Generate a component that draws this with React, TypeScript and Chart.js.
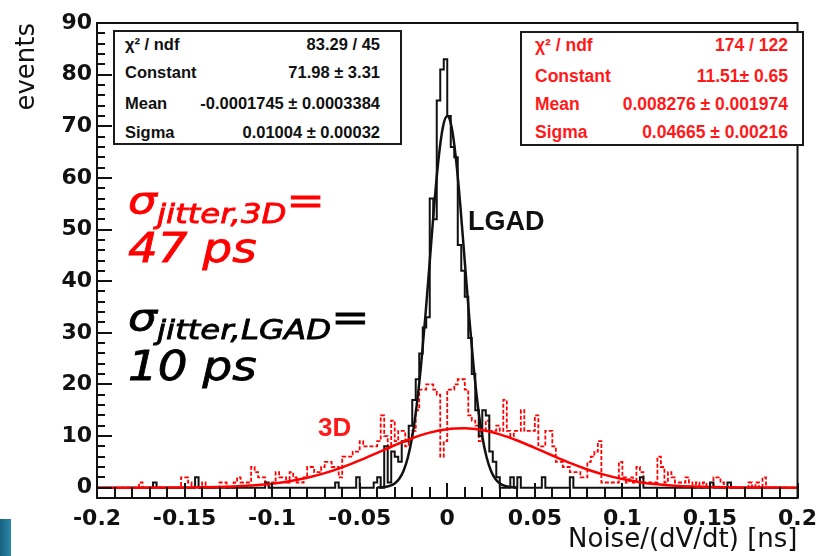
import React, { useEffect, useRef } from 'react';
import { Chart, registerables } from 'chart.js';
Chart.register(...registerables);

// ---------- data ----------
const BIN_LOW = -0.2;
const BIN_WIDTH = 0.002;

// LGAD histogram, 200 bins of 0.002 from -0.2 to 0.2
const lgadCounts = [
  0,0,0,0,0,0,0,0,0,0,0,0,0,0,0,0,1,0,0,0,
  0,0,0,0,0,0,0,0,2,0,0,0,0,0,0,0,0,0,0,0,
  0,0,0,0,0,0,0,0,1,0,0,0,0,0,0,0,0,0,0,0,
  0,0,0,0,0,0,0,0,1,0,0,0,0,0,2,0,0,0,0,1,
  2,0,8,1,7,6,5,9,9,12,17,21,26,31,33,56,52,75,81,83,
  72,66,64,47,42,37,29,22,15,10,15,14,7,5,2,0,0,0,2,0,
  2,0,0,0,0,0,0,2,0,0,0,0,0,0,0,2,0,0,0,0,
  0,0,0,0,0,0,0,0,0,0,0,0,0,0,0,2,0,0,0,0,
  0,0,0,0,0,0,0,0,0,0,0,0,0,0,0,1,0,0,0,0,
  1,0,0,0,0,0,0,0,0,0,0,0,0,0,0,0,0,0,0,0,
];

// 3D histogram, same binning
const d3Counts = [
  0,0,0,0,0,0,0,0,0,0,0,0,1,0,0,0,0,0,0,0,
  0,0,0,0,2,2,1,0,0,0,1,0,0,0,0,1,1,0,0,1,
  2,1,1,1,4,3,2,2,1,0,1,3,2,2,1,3,2,1,1,2,
  4,4,3,3,4,5,5,4,4,2,6,6,6,7,7,9,8,8,8,8,
  9,14,10,8,13,9,11,11,8,10,11,15,19,19,20,20,19,18,6,9,
  19,19,20,21,21,19,14,13,12,9,11,13,11,11,12,11,17,11,10,11,
  11,15,11,11,11,14,8,8,11,11,8,5,5,4,4,3,3,3,2,2,
  5,6,7,9,1,1,1,1,1,5,2,1,2,1,4,3,1,1,1,1,
  6,4,1,3,2,1,1,1,2,1,0,1,0,1,0,0,2,2,1,0,
  0,0,0,0,0,0,1,0,1,0,2,0,0,0,0,0,0,0,0,0,
];

// Gaussian fit curves, sampled values
const lgadFitX = [
  -0.04,-0.0375,-0.035,-0.0325,-0.03,-0.0275,-0.025,-0.0225,-0.02,-0.0175,-0.015,-0.0125,-0.01,-0.0075,-0.005,-0.0025,
  0,
  0.0025,0.005,0.0075,0.01,0.0125,0.015,0.0175,0.02,0.0225,0.025,0.0275,0.03,0.0325,0.035,0.0375,0.04,
];
const lgadFitY = [
  0.03,0.07,0.16,0.38,0.83,1.69,3.24,5.84,9.9,15.8,23.6,33.2,43.8,54.5,63.6,69.8,
  71.98,
  69.8,63.6,54.5,43.8,33.2,23.6,15.8,9.9,5.84,3.24,1.69,0.83,0.38,0.16,0.07,0.03,
];
const d3FitX = [
  -0.2,-0.19,-0.18,-0.17,-0.16,-0.15,-0.14,-0.13,-0.12,-0.11,-0.1,-0.09,-0.08,-0.07,-0.06,-0.05,-0.04,-0.03,-0.02,-0.01,
  0,
  0.01,0.02,0.03,0.04,0.05,0.06,0.07,0.08,0.09,0.1,0.11,0.12,0.13,0.14,0.15,0.16,0.17,0.18,0.19,0.2,
];
const d3FitY = [
  0,0,0,0.01,0.02,0.04,0.07,0.14,0.26,0.46,0.78,1.25,1.92,2.81,3.94,5.27,6.73,8.22,9.58,10.66,
  11.33,
  11.5,11.15,10.33,9.14,7.71,6.23,4.8,3.53,2.48,1.67,1.07,0.65,0.38,0.21,0.11,0.06,0.03,0.01,0.01,0,
];

const xTickValues = [-0.2, -0.15, -0.1, -0.05, 0, 0.05, 0.1, 0.15, 0.2];
const xTickLabels = ['-0.2', '-0.15', '-0.1', '-0.05', '0', '0.05', '0.1', '0.15', '0.2'];
const yTickValues = [0, 10, 20, 30, 40, 50, 60, 70, 80, 90];
const yTickLabels = ['0', '10', '20', '30', '40', '50', '60', '70', '80', '90'];

const statLabels = ['χ² / ndf', 'Constant', 'Mean', 'Sigma'];
const lgadStatValues = ['83.29 / 45', '71.98 ± 3.31', '-0.0001745 ± 0.0003384', '0.01004 ± 0.00032'];
const d3StatValues = ['174 / 122', '11.51± 0.65', '0.008276 ± 0.001974', '0.04665 ± 0.00216'];

// ---------- helpers ----------
function histPoints(counts: number[]) {
  const pts = counts.map((c, i) => ({ x: BIN_LOW + i * BIN_WIDTH, y: c }));
  pts.push({ x: BIN_LOW + counts.length * BIN_WIDTH, y: counts[counts.length - 1] });
  return pts;
}
function curvePoints(xs: number[], ys: number[]) {
  return xs.map((x, i) => ({ x, y: ys[i] }));
}

const frameTicks = {
  id: 'frameTicks',
  afterDatasetsDraw(chart: any) {
    const { ctx, chartArea: a, scales } = chart;
    const xs = scales.x;
    const ys = scales.y;
    ctx.save();
    ctx.strokeStyle = '#111';
    ctx.lineWidth = 2;
    ctx.beginPath();
    for (let i = 0; i <= 45; i++) {
      const v = i * 2;
      const py = Math.round(ys.getPixelForValue(v));
      const len = v % 10 === 0 ? 15 : 8;
      ctx.moveTo(a.left, py);
      ctx.lineTo(a.left + len, py);
    }
    for (let i = 0; i <= 40; i++) {
      const v = -0.2 + i * 0.01;
      const px = Math.round(xs.getPixelForValue(v));
      const len = i % 5 === 0 ? 15 : 11;
      ctx.moveTo(px, a.bottom);
      ctx.lineTo(px, a.bottom - len);
    }
    ctx.stroke();
    ctx.strokeRect(a.left, a.top, a.right - a.left, a.bottom - a.top);
    ctx.restore();
  },
};

function StatBox(props: {
  left: number; top: number; width: number; height: number;
  values: string[]; color: string; fontSize: number; rows: number[]; padL: number; padR: number;
}) {
  const { left, top, width, height, values, color, fontSize, rows, padL, padR } = props;
  const lh = Math.round(fontSize * 1.2);
  return (
    <div style={{
      position: 'absolute', left, top, width, height, boxSizing: 'border-box',
      border: '2px solid #1a1a1a', background: '#fff',
      fontFamily: '"Liberation Sans", Arial, sans-serif', fontWeight: 'bold', fontSize, color,
    }}>
      {statLabels.map((lab, i) => (
        <div key={i} style={{ position: 'absolute', top: rows[i] - lh / 2 - 2, left: 0, right: 0, height: lh, lineHeight: lh + 'px', whiteSpace: 'nowrap' }}>
          <span style={{ position: 'absolute', left: padL - 2 }}>{lab}</span>
          <span style={{ position: 'absolute', right: padR - 2 }}>{values[i]}</span>
        </div>
      ))}
    </div>
  );
}

export default function App() {
  const canvasRef = useRef<HTMLCanvasElement | null>(null);

  useEffect(() => {
    if (!canvasRef.current) return;
    const chart = new Chart(canvasRef.current, {
      type: 'line',
      data: {
        datasets: [
          {
            label: '3D fit',
            data: curvePoints(d3FitX, d3FitY),
            borderColor: '#ff0000',
            borderWidth: 2.5,
            pointRadius: 0,
            fill: false,
            cubicInterpolationMode: 'monotone',
          },
          {
            label: 'LGAD fit',
            data: curvePoints(lgadFitX, lgadFitY),
            borderColor: '#111111',
            borderWidth: 2.5,
            pointRadius: 0,
            fill: false,
            cubicInterpolationMode: 'monotone',
          },
          {
            label: 'LGAD',
            data: histPoints(lgadCounts),
            borderColor: '#111111',
            borderWidth: 2,
            pointRadius: 0,
            fill: false,
            stepped: 'before',
          },
          {
            label: '3D',
            data: histPoints(d3Counts),
            borderColor: '#ff0000',
            borderWidth: 1.8,
            borderDash: [4, 2],
            pointRadius: 0,
            fill: false,
            stepped: 'before',
          },
        ],
      } as any,
      options: {
        animation: false,
        responsive: false,
        events: [],
        layout: { padding: { top: 23, right: 21, bottom: 0, left: 0 } },
        plugins: { legend: { display: false }, tooltip: { enabled: false } },
        scales: {
          x: {
            type: 'linear',
            min: -0.2,
            max: 0.2,
            grid: { display: false, drawTicks: false },
            border: { display: false },
            afterBuildTicks: (s: any) => { s.ticks = xTickValues.map((v) => ({ value: v })); },
            afterFit: (s: any) => { s.height = 58; },
            ticks: {
              autoSkip: false,
              maxRotation: 0,
              padding: 8,
              color: '#111',
              font: { family: '"DejaVu Sans"', size: 22, weight: 'bold' },
              callback: (_v: any, i: number) => xTickLabels[i],
            },
            title: {
              display: true,
              text: 'Noise/(dV/dt) [ns]',
              align: 'end',
              color: '#111',
              font: { family: '"DejaVu Sans"', size: 26 },
              padding: { top: 0, bottom: 0 },
            },
          },
          y: {
            type: 'linear',
            min: -2,
            max: 90,
            grid: { display: false, drawTicks: false },
            border: { display: false },
            afterBuildTicks: (s: any) => { s.ticks = yTickValues.map((v) => ({ value: v })); },
            afterFit: (s: any) => { s.width = 97; },
            ticks: {
              padding: 5,
              color: '#111',
              font: { family: '"DejaVu Sans"', size: 22, weight: 'bold' },
              callback: (_v: any, i: number) => yTickLabels[i],
            },
            title: {
              display: true,
              text: 'events',
              align: 'end',
              color: '#111',
              font: { family: '"DejaVu Sans"', size: 26 },
              padding: { top: 12, bottom: 0 },
            },
          },
        },
      } as any,
      plugins: [frameTicks],
    });
    return () => chart.destroy();
  }, []);

  const sigmaFont = '"DejaVu Sans", Verdana, sans-serif';
  const annot = (color: string, size: number, top: number, sx: number) => ({
    position: 'absolute' as const, left: 128, top, fontFamily: sigmaFont, fontStyle: 'italic', fontSize: size,
    lineHeight: 1, color, whiteSpace: 'nowrap' as const, transform: `scaleX(${sx})`, transformOrigin: 'left top',
    WebkitTextStroke: `0.8px ${color}`,
  });

  return (
    <div style={{ position: 'absolute', left: 0, top: 0, width: 825, height: 556, overflow: 'hidden', background: '#fff' }}>
      <canvas ref={canvasRef} width={825} height={556} style={{ position: 'absolute', left: 0, top: 0, width: 825, height: 556 }} />

      <StatBox left={113} top={30} width={289} height={115} values={lgadStatValues} color="#111"
        fontSize={16.5} rows={[13.5, 42, 72.5, 101.5]} padL={12} padR={22} />
      <StatBox left={520} top={31} width={284} height={115} values={d3StatValues} color="#ff1a1a"
        fontSize={17.5} rows={[14, 45, 73, 101]} padL={15} padR={16} />

      <div style={{ position: 'absolute', left: 468, top: 205, fontFamily: '"Liberation Sans", Arial, sans-serif', fontWeight: 'bold', fontSize: 27, lineHeight: '32px', color: '#111' }}>LGAD</div>
      <div style={{ position: 'absolute', left: 318, top: 412, fontFamily: '"Liberation Sans", Arial, sans-serif', fontWeight: 'bold', fontSize: 26, lineHeight: '31px', color: '#ff1a1a' }}>3D</div>

      <div style={annot('#ff0000', 38, 181, 1.2)}>
        σ<span style={{ fontSize: 27, position: 'relative', top: 10 }}>jitter,3D</span>=
      </div>
      <div style={annot('#ff0000', 40, 228, 1.17)}>47 ps</div>
      <div style={annot('#000000', 38, 298, 1.2)}>
        σ<span style={{ fontSize: 27, position: 'relative', top: 9 }}>jitter,LGAD</span>=
      </div>
      <div style={annot('#000000', 40, 346, 1.17)}>10 ps</div>

      <div style={{ position: 'absolute', left: 0, top: 519, width: 11, height: 37, background: 'linear-gradient(to right, #17627f, #2a88a8)' }} />
    </div>
  );
}
